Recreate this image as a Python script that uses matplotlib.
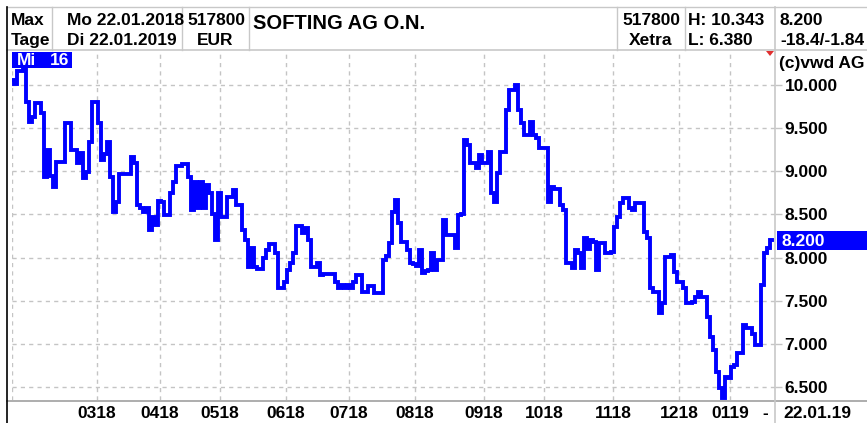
import matplotlib
matplotlib.use("Agg")
import matplotlib.pyplot as plt
import pandas as pd
from matplotlib.lines import Line2D
from matplotlib.patches import Rectangle, Polygon

W, H, DPI = 867, 423, 100

# ---- data -------------------------------------------------------------
holidays = ["2018-03-30", "2018-04-02", "2018-05-01", "2018-12-24",
            "2018-12-25", "2018-12-26", "2018-12-31", "2019-01-01"]
dates = pd.bdate_range("2018-01-22", "2019-01-22")
dates = dates[~dates.isin(pd.to_datetime(holidays))]

prices = [
    10.06, 10.01, 10.16, 10.16, 10.20, 9.80, 9.57, 9.63, 9.79, 9.79,
    9.68, 8.93, 9.25, 8.95, 8.82, 9.11, 9.11, 9.11, 9.56, 9.56,
    9.25, 9.25, 9.10, 9.21, 8.92, 8.99, 9.34, 9.80, 9.80, 9.56,
    9.13, 9.20, 9.34, 8.93, 8.53, 8.64, 8.97, 8.97, 8.97, 8.97,
    9.17, 9.10, 8.61, 8.58, 8.53, 8.58, 8.32, 8.47, 8.38, 8.65,
    8.64, 8.49, 8.49, 8.75, 8.88, 9.06, 9.06, 9.08, 9.08, 8.93,
    8.55, 8.88, 8.57, 8.88, 8.57, 8.84, 8.75, 8.51, 8.20, 8.75,
    8.47, 8.47, 8.70, 8.70, 8.78, 8.61, 8.61, 8.32, 8.20, 7.89,
    8.11, 7.89, 7.87, 7.87, 7.99, 8.09, 8.16, 8.16, 8.05, 7.65,
    7.65, 7.72, 7.86, 7.94, 8.05, 8.37, 8.37, 8.28, 8.34, 8.20,
    7.89, 7.89, 7.94, 7.80, 7.81, 7.81, 7.81, 7.81, 7.72, 7.65,
    7.68, 7.65, 7.68, 7.65, 7.72, 7.80, 7.80, 7.60, 7.60, 7.67,
    7.67, 7.59, 7.59, 7.59, 7.97, 8.02, 8.17, 8.53, 8.67, 8.40,
    8.18, 8.18, 8.09, 7.94, 7.92, 7.90, 8.09, 7.82, 7.84, 7.86,
    8.05, 7.86, 7.97, 7.97, 8.44, 8.26, 8.26, 8.26, 8.11, 8.49,
    8.50, 9.36, 9.30, 9.10, 9.10, 9.04, 9.19, 9.10, 9.10, 9.22,
    8.75, 8.64, 8.98, 9.22, 9.22, 9.71, 9.94, 9.94, 10.00, 9.71,
    9.56, 9.42, 9.42, 9.57, 9.42, 9.39, 9.27, 9.27, 9.27, 8.64,
    8.82, 8.80, 8.80, 8.61, 8.55, 7.94, 7.94, 7.88, 8.09, 8.05,
    7.88, 8.23, 8.10, 8.20, 8.18, 7.86, 8.17, 8.17, 8.05, 8.05,
    8.07, 8.35, 8.47, 8.63, 8.69, 8.69, 8.57, 8.55, 8.63, 8.63,
    8.63, 8.30, 8.23, 7.65, 7.60, 7.60, 7.36, 7.47, 8.01, 8.01,
    8.03, 7.83, 7.72, 7.72, 7.65, 7.47, 7.47, 7.48, 7.54, 7.60,
    7.54, 7.54, 7.31, 7.08, 6.93, 6.68, 6.49, 6.37, 6.62, 6.60,
    6.73, 6.76, 6.89, 6.89, 7.22, 7.18, 7.18, 7.12, 6.99, 6.99,
    7.68, 8.05, 8.11, 8.20,
]
n = min(len(prices), len(dates))
prices = prices[:n]
dates = dates[:n]

y_ticks = [6.5, 7.0, 7.5, 8.0, 8.5, 9.0, 9.5, 10.0]
last_price = "8.200"
header_left = [("Max", "Tage"), ("Mo 22.01.2018", "Di 22.01.2019"), ("517800", "EUR")]
title = "SOFTING AG O.N."
header_right = [("517800", "Xetra"), ("H: 10.343", "L: 6.380"), ("8.200", "-18.4/-1.84")]

# month ticks (first trading day of each month from March on)
month_idx = [i for i in range(1, n) if dates[i].month != dates[i - 1].month]
month_idx = [i for i in month_idx if not (dates[i].month == 2 and dates[i].year == 2018)]
month_lab = [dates[i].strftime("%m%y") for i in month_idx]

# ---- figure -------------------------------------------------------------
FONT = "Liberation Sans"
plt.rcParams['font.family'] = [FONT, 'DejaVu Sans']
fig = plt.figure(figsize=(W / DPI, H / DPI), dpi=DPI)
fig.patch.set_facecolor("white")

def fx(x):
    return x / W

def fy(y):
    return 1 - y / H

BLUE = "#0000ff"
GRID = "#c4c4c4"
SEP = "#c8c8c8"
FS = 12.5

L, R, T, B = 12, 775, 52, 400
ax = fig.add_axes([fx(L), fy(B), (R - L) / W, (B - T) / H])
ax.set_xlim(-0.33, 254.0)
ax.set_ylim(6.35, 10.382)
ax.set_facecolor("white")
for s in ax.spines.values():
    s.set_visible(False)

# grid
for v in y_ticks:
    ax.axhline(v, color=GRID, lw=1.0, ls=(0, (3, 3)), zorder=1)
for i in month_idx + [-0.33]:
    ax.axvline(i, color=GRID, lw=1.0, ls=(0, (3, 3)), zorder=1)

ax.plot(range(n), prices, color=BLUE, lw=2.8, drawstyle="steps-mid",
        solid_joinstyle="miter", zorder=3)

ax.set_xticks(month_idx)
ax.set_xticklabels(month_lab, fontsize=FS, fontweight="bold")
ax.tick_params(axis="x", length=0, pad=4)
ax.yaxis.tick_right()
ax.set_yticks(y_ticks)
ax.set_yticklabels([f"{v:.3f}" for v in y_ticks], fontsize=FS, fontweight="bold")
ax.tick_params(axis="y", length=5, color=GRID, pad=2, width=1)

# frame lines
fig.add_artist(Line2D([fx(7), fx(867)], [fy(7), fy(7)], color=SEP, lw=1))
fig.add_artist(Line2D([fx(7), fx(867)], [fy(50), fy(50)], color=SEP, lw=1.2))
fig.add_artist(Line2D([fx(7), fx(867)], [fy(401), fy(401)], color="#a0a0a0", lw=1.2))
fig.add_artist(Line2D([fx(7), fx(7)], [fy(7), fy(423)], color="black", lw=1.2))
fig.add_artist(Line2D([fx(775), fx(775)], [fy(7), fy(423)], color=SEP, lw=1.2))
for x in (52, 182, 249, 617, 685):
    fig.add_artist(Line2D([fx(x), fx(x)], [fy(7), fy(50)], color=SEP, lw=1))

# header texts
kw = dict(fontsize=FS, fontweight="bold", color="black", va="baseline")
fig.text(fx(11), fy(25), header_left[0][0], ha="left", **kw)
fig.text(fx(11), fy(45), header_left[0][1], ha="left", **kw)
fig.text(fx(67), fy(25), header_left[1][0], ha="left", **kw)
fig.text(fx(67), fy(45), header_left[1][1], ha="left", **kw)
fig.text(fx(216), fy(25), header_left[2][0], ha="center", **kw)
fig.text(fx(215), fy(45), header_left[2][1], ha="center", **kw)
fig.text(fx(253), fy(29), title, ha="left", fontsize=14.5, fontweight="bold",
         va="baseline")
fig.text(fx(651), fy(25), header_right[0][0], ha="center", **kw)
fig.text(fx(651), fy(45), header_right[0][1], ha="center", **kw)
fig.text(fx(688), fy(25), header_right[1][0], ha="left", **kw)
fig.text(fx(688), fy(45), header_right[1][1], ha="left", **kw)
fig.text(fx(780), fy(25), header_right[2][0], ha="left", **kw)
fig.text(fx(780), fy(45), header_right[2][1], ha="left", **kw)
fig.text(fx(779), fy(68), "(c)vwd AG", ha="left", **kw)

# "Mi 16" badge
fig.add_artist(Rectangle((fx(12), fy(68)), (72 - 12) / W, 16 / H,
                         facecolor=BLUE, edgecolor="none"))
fig.text(fx(17), fy(65), "Mi", color="white", fontsize=FS, fontweight="bold",
         va="baseline", ha="left")
fig.text(fx(50), fy(65), "16", color="white", fontsize=FS, fontweight="bold",
         va="baseline", ha="left")

# last price badge
fig.add_artist(Rectangle((fx(777), fy(250)), (867 - 777) / W, 19 / H,
                         facecolor=BLUE, edgecolor="none"))
fig.text(fx(782), fy(246), last_price, color="white", fontsize=FS,
         fontweight="bold", va="baseline", ha="left")

# red marker
fig.add_artist(Polygon([(fx(766), fy(51)), (fx(774), fy(51)), (fx(770), fy(56))],
                       closed=True, facecolor="#e03030", edgecolor="none"))

# bottom right labels
fig.text(fx(765), fy(418), "-", ha="center", **kw)
fig.text(fx(783), fy(418), "22.01.19", ha="left", **kw)

fig.savefig("out.png", dpi=DPI, facecolor="white")
